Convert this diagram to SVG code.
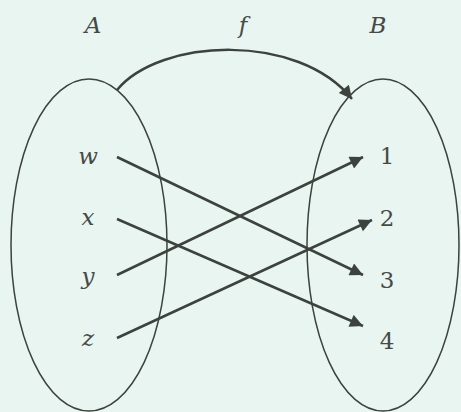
<svg xmlns="http://www.w3.org/2000/svg" width="461" height="412" viewBox="0 0 461 412">
<style>
.lbl{font-family:"DejaVu Serif","Liberation Serif",serif;font-style:italic;font-size:23px;fill:#464a47;text-anchor:middle}
.num{font-family:"DejaVu Serif","Liberation Serif",serif;font-size:23px;fill:#464a47;text-anchor:middle}
.set{fill:none;stroke:#3c423e;stroke-width:1.5}
.arr{fill:none;stroke:#3c423e;stroke-width:2.5;marker-end:url(#ah)}
</style>
<defs>
<marker id="ah" viewBox="0 0 10 10" refX="10" refY="5" markerWidth="15" markerHeight="13" markerUnits="userSpaceOnUse" orient="auto">
<path d="M0,0 L10,5 L0,10 z" fill="#3c423e"/>
</marker>
</defs>
<rect width="461" height="412" fill="#e9f5f0"/>
<g id="setA">
<ellipse class="set" cx="89" cy="245" rx="78" ry="166"/>
<text class="lbl" x="93" y="33">A</text>
<text class="lbl" x="88" y="164">w</text>
<text class="lbl" x="88" y="225">x</text>
<text class="lbl" x="88" y="284">y</text>
<text class="lbl" x="88" y="346">z</text>
</g>
<g id="setB">
<ellipse class="set" cx="383" cy="245" rx="76" ry="166"/>
<text class="lbl" x="378" y="33">B</text>
<text class="num" x="387" y="164">1</text>
<text class="num" x="387" y="226">2</text>
<text class="num" x="387" y="288">3</text>
<text class="num" x="387" y="349">4</text>
</g>
<g id="fLabel">
<text class="lbl" x="243" y="33">f</text>
</g>
<g id="connectors">
<path class="arr" d="M117,90 C160,38 298,32 352,99"/>
<path class="arr" d="M117,157 L363,275"/>
<path class="arr" d="M117,219 L363,326"/>
<path class="arr" d="M117,275 L363,157"/>
<path class="arr" d="M117,338 L372,220"/>
</g>
</svg>
